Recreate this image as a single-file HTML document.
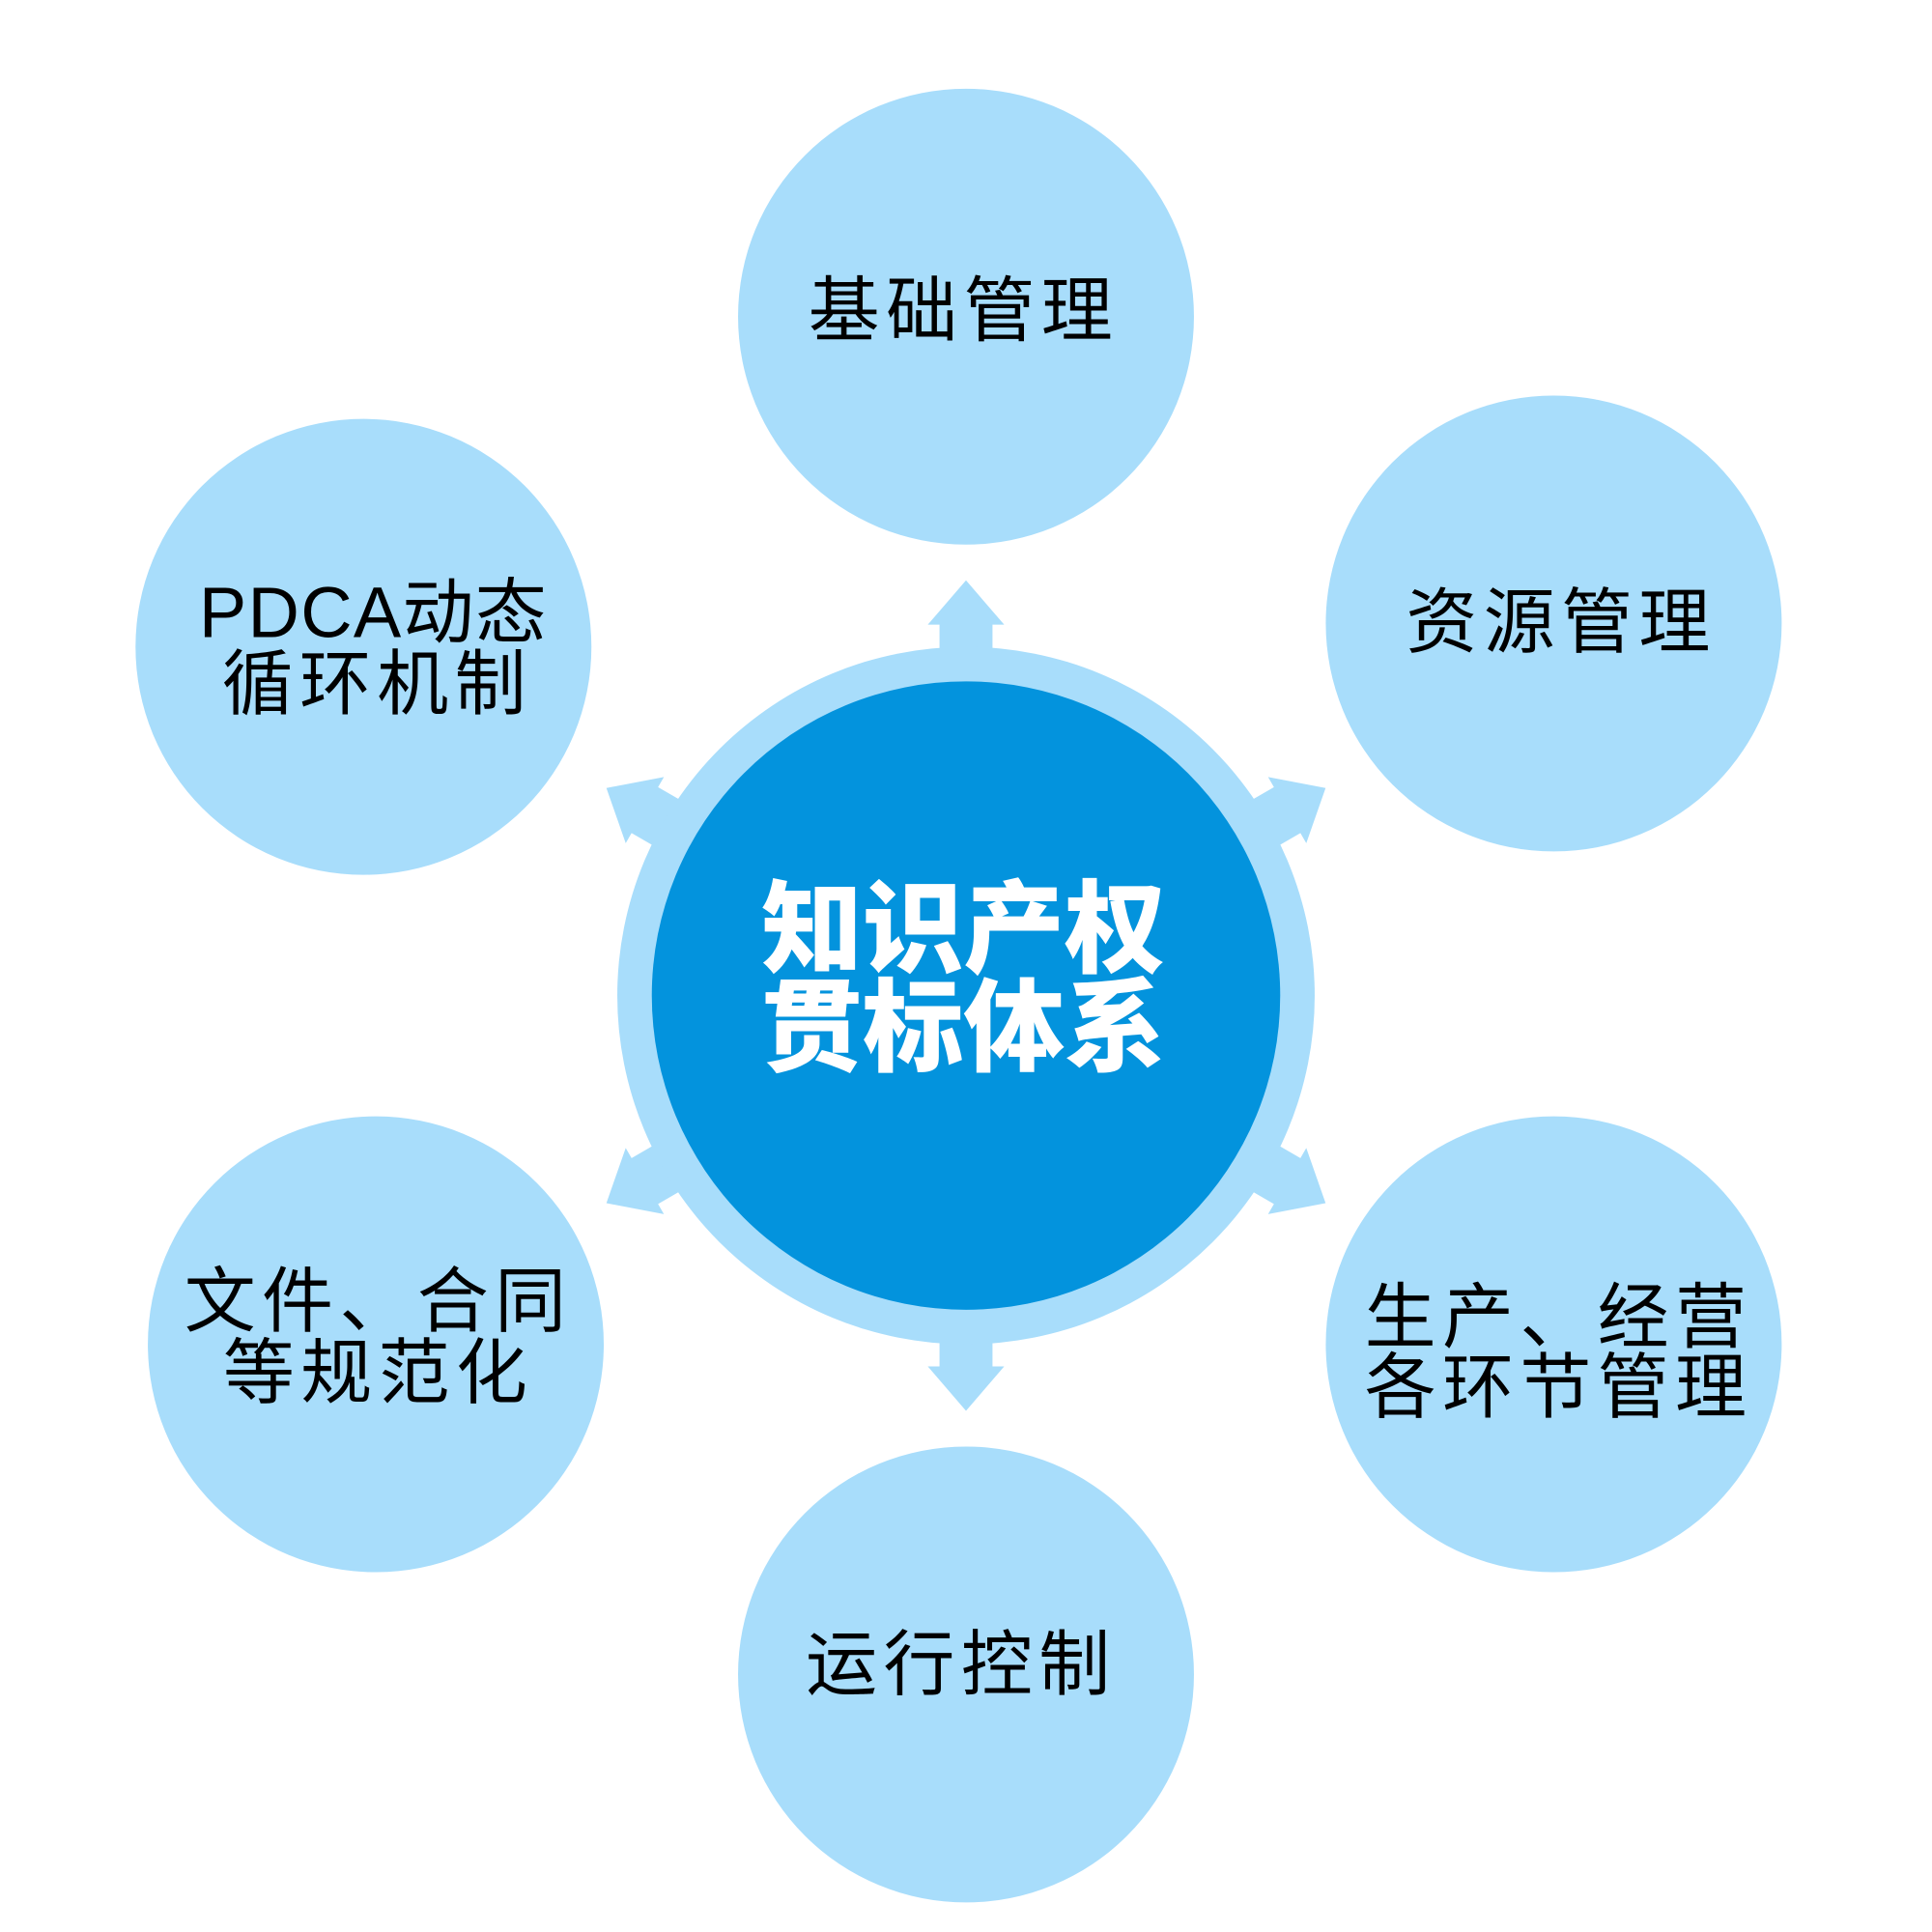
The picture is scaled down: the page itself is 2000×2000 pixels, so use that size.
<!DOCTYPE html>
<html><head><meta charset="utf-8"><style>
html,body{margin:0;padding:0;background:#fff;}
svg{display:block;}
text{font-family:"Liberation Sans","Noto Sans CJK SC",sans-serif;}
</style></head><body>
<svg width="2000" height="2000" viewBox="0 0 1568 1568" xmlns="http://www.w3.org/2000/svg">
<defs>
<polygon id="arr" points="0,-337 -31,-301 -21.5,-301 -21.5,-250 21.5,-250 21.5,-301 31,-301" fill="#a8ddfb"/>
</defs>
<g fill="#a8ddfb">
<circle cx="784" cy="257" r="185"/>
<circle cx="1261" cy="506" r="185"/>
<circle cx="1261" cy="1091" r="185"/>
<circle cx="784" cy="1359" r="185"/>
<circle cx="305" cy="1091" r="185"/>
<circle cx="295" cy="525" r="185"/>
</g>
<g transform="translate(784,808)">
<use href="#arr"/>
<use href="#arr" transform="rotate(60)"/>
<use href="#arr" transform="rotate(120)"/>
<use href="#arr" transform="rotate(180)"/>
<use href="#arr" transform="rotate(240)"/>
<use href="#arr" transform="rotate(300)"/>
</g>
<circle cx="784" cy="808" r="283" fill="#a8ddfb"/>
<circle cx="784" cy="808" r="255" fill="#0393dd"/>
<g font-weight="900" fill="#fff" font-size="82" text-anchor="middle" dominant-baseline="central">
<text x="782" y="748" style="font-family:'Noto Sans CJK SC',sans-serif;font-weight:900">知识产权</text>
<text x="782" y="828" style="font-family:'Noto Sans CJK SC',sans-serif;font-weight:900">贯标体系</text>
</g>
<g fill="#000" font-size="58" text-anchor="middle" dominant-baseline="central" letter-spacing="5">
<text x="782" y="252">基础管理</text>
<text x="1267" y="505">资源管理</text>
<text x="303" y="497" letter-spacing="1">PDCA动态</text>
<text x="306" y="555">循环机制</text>
<text x="307" y="1056">文件、合同</text>
<text x="307" y="1114">等规范化</text>
<text x="1265" y="1069">生产、经营</text>
<text x="1265" y="1126">各环节管理</text>
<text x="780" y="1351">运行控制</text>
</g>
</svg>
</body></html>
